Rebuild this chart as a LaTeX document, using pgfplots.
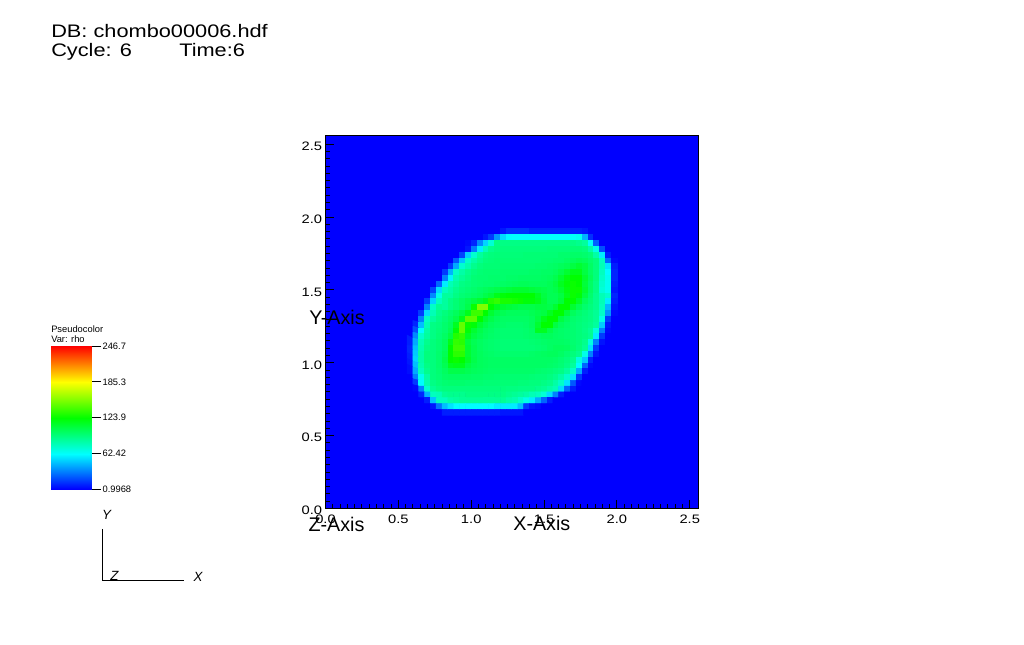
\documentclass[border=0pt]{standalone}
\usepackage{fontspec}
\setmainfont{Liberation Sans}
\newfontfamily\widefont[FakeStretch=1.2]{Liberation Sans}
\usepackage{pgfplots}
\pgfplotsset{compat=1.18}
\pgfplotsset{colormap={visit}{rgb255(0)=(0,0,255) rgb255(1)=(0,255,255) rgb255(2)=(0,255,0) rgb255(3)=(255,255,0) rgb255(4)=(255,0,0)}}
\begin{document}
\begin{tikzpicture}[x=0.75pt,y=0.75pt]
\path[use as bounding box] (0,0) rectangle (1024,645);
\begin{axis}[
  at={(244.125pt,102.375pt)},anchor=south west,
  scale only axis,width=279.75pt,height=279.75pt,
  xmin=0,xmax=2.56,ymin=0,ymax=2.56,
  axis background/.style={fill={rgb,255:red,0;green,0;blue,255}},
  axis on top,
  axis line style={black,line width=1pt},
  tick style={black,line width=0.75pt},
  tick align=inside,
  xtick pos=lower,ytick pos=left,
  major tick length=6pt,minor tick length=3pt,
  xtick={0,0.5,1,1.5,2,2.5},ytick={0,0.5,1,1.5,2,2.5},
  xticklabels={0.0,0.5,1.0,1.5,2.0,2.5},yticklabels={0.0,0.5,1.0,1.5,2.0,2.5},
  minor tick num=9,
  tick label style={font=\widefont\fontsize{9.2pt}{11pt}\selectfont,black},
  xticklabel style={yshift=-1.5pt},
  yticklabel style={xshift=1pt,yshift=-1.5pt},
  xlabel={X-Axis},ylabel={Y-Axis},
  every axis x label/.style={at={(axis description cs:0.58,-0.04)},anchor=center,font=\fontsize{14.8pt}{16pt}\selectfont},
  every axis y label/.style={at={(axis description cs:0.031,0.513)},anchor=center,font=\fontsize{14.8pt}{16pt}\selectfont},
  colormap name=visit,
  point meta min=0.9968,point meta max=246.7,
]
\addplot[matrix plot*,mesh/cols=36,point meta=explicit]
table[row sep=\\,header=false,meta index=0,
  x expr={(14+mod(\coordindex,36)+0.5)*0.04},
  y expr={(47-floor(\coordindex/36)+0.5)*0.04}]{
1\\1\\1\\1\\1\\1\\1\\1\\1\\1\\1\\1\\1\\1\\1\\1\\6\\12\\12\\12\\12\\8\\8\\8\\8\\8\\8\\8\\8\\8\\6\\1\\1\\1\\1\\1\\
1\\1\\1\\1\\1\\1\\1\\1\\1\\1\\1\\1\\1\\6\\15\\37\\54\\62\\63\\63\\63\\63\\63\\63\\63\\63\\63\\63\\64\\66\\44\\12\\1\\1\\1\\1\\
1\\1\\1\\1\\1\\1\\1\\1\\1\\1\\3\\10\\34\\52\\72\\92\\92\\92\\92\\92\\92\\92\\92\\92\\92\\92\\92\\92\\92\\90\\86\\64\\24\\1\\1\\1\\
1\\1\\1\\1\\1\\1\\1\\1\\1\\1\\6\\31\\58\\80\\90\\93\\94\\94\\94\\94\\94\\94\\94\\94\\95\\95\\95\\95\\96\\96\\94\\84\\68\\20\\1\\1\\
1\\1\\1\\1\\1\\1\\1\\1\\1\\17\\51\\74\\86\\92\\94\\95\\95\\95\\95\\95\\96\\96\\96\\96\\96\\96\\98\\98\\99\\99\\98\\95\\84\\58\\8\\1\\
1\\1\\1\\1\\1\\1\\1\\1\\22\\48\\76\\84\\90\\94\\95\\96\\96\\96\\96\\96\\96\\96\\96\\97\\97\\98\\98\\100\\102\\104\\102\\98\\94\\78\\26\\3\\
1\\1\\1\\1\\1\\1\\1\\15\\42\\74\\82\\90\\94\\96\\96\\96\\97\\97\\97\\97\\97\\97\\98\\98\\99\\100\\102\\104\\108\\112\\108\\100\\94\\80\\56\\8\\
1\\1\\1\\1\\1\\1\\15\\44\\76\\84\\90\\94\\96\\97\\97\\97\\98\\98\\98\\98\\98\\99\\99\\100\\100\\102\\106\\112\\118\\118\\108\\100\\94\\78\\62\\10\\
1\\1\\1\\1\\1\\1\\32\\60\\82\\88\\92\\96\\97\\97\\98\\98\\98\\99\\99\\100\\100\\100\\100\\101\\102\\105\\112\\120\\124\\124\\112\\102\\94\\76\\66\\10\\
1\\1\\1\\1\\1\\25\\58\\80\\86\\92\\94\\96\\97\\98\\98\\99\\100\\101\\102\\103\\103\\102\\102\\102\\104\\108\\116\\122\\126\\124\\110\\100\\92\\74\\66\\8\\
1\\1\\1\\1\\17\\54\\78\\84\\90\\94\\96\\98\\100\\102\\104\\106\\108\\110\\112\\112\\112\\110\\108\\106\\104\\106\\112\\120\\126\\126\\112\\100\\92\\72\\66\\6\\
1\\1\\1\\1\\34\\68\\86\\86\\92\\96\\98\\100\\102\\106\\110\\118\\122\\124\\124\\124\\124\\124\\116\\108\\104\\104\\108\\118\\126\\122\\108\\98\\90\\80\\75\\10\\
1\\1\\1\\15\\52\\78\\86\\92\\96\\100\\104\\108\\112\\118\\132\\136\\130\\130\\128\\126\\122\\122\\118\\110\\104\\104\\110\\124\\124\\114\\102\\96\\90\\80\\58\\8\\
1\\1\\1\\32\\76\\88\\86\\92\\96\\100\\106\\126\\155\\155\\124\\116\\112\\110\\108\\106\\106\\106\\108\\108\\106\\112\\124\\124\\112\\104\\98\\94\\90\\78\\45\\5\\
1\\1\\15\\54\\80\\90\\94\\98\\102\\108\\118\\138\\138\\124\\112\\106\\104\\102\\102\\102\\102\\104\\106\\108\\116\\124\\124\\110\\102\\98\\95\\92\\88\\76\\37\\3\\
1\\1\\32\\76\\86\\92\\96\\100\\106\\118\\146\\146\\124\\112\\106\\102\\100\\100\\100\\100\\100\\102\\108\\118\\124\\124\\108\\102\\98\\96\\94\\92\\88\\68\\15\\1\\
1\\10\\47\\80\\92\\94\\98\\102\\116\\148\\126\\122\\112\\106\\102\\100\\99\\98\\98\\98\\99\\102\\112\\124\\124\\108\\102\\99\\97\\95\\93\\91\\86\\50\\6\\1\\
1\\20\\62\\84\\92\\95\\98\\104\\122\\148\\122\\112\\106\\102\\100\\98\\97\\97\\97\\97\\98\\100\\116\\116\\106\\101\\99\\98\\97\\95\\92\\88\\70\\32\\3\\1\\
1\\34\\75\\86\\92\\96\\100\\108\\132\\136\\116\\108\\104\\101\\99\\98\\97\\97\\97\\97\\98\\99\\100\\102\\102\\100\\99\\98\\97\\95\\93\\89\\58\\15\\1\\1\\
8\\42\\80\\90\\94\\97\\102\\118\\136\\134\\110\\104\\101\\99\\98\\97\\96\\96\\96\\96\\96\\97\\98\\99\\100\\100\\100\\99\\97\\95\\90\\70\\32\\5\\1\\1\\
10\\47\\82\\92\\94\\97\\102\\124\\138\\138\\112\\105\\101\\99\\98\\97\\96\\96\\96\\96\\96\\96\\97\\98\\100\\102\\102\\101\\98\\94\\88\\55\\15\\1\\1\\1\\
10\\50\\84\\94\\94\\98\\104\\124\\134\\134\\112\\105\\102\\100\\99\\98\\98\\98\\98\\98\\98\\99\\100\\101\\102\\102\\100\\97\\94\\90\\68\\32\\6\\1\\1\\1\\
8\\52\\84\\94\\94\\98\\106\\124\\126\\124\\114\\106\\102\\101\\100\\100\\100\\100\\100\\100\\100\\100\\100\\100\\100\\99\\97\\94\\90\\70\\50\\10\\1\\1\\1\\1\\
6\\47\\82\\92\\94\\98\\104\\116\\118\\118\\108\\104\\102\\101\\100\\100\\100\\100\\100\\100\\100\\100\\100\\100\\99\\98\\96\\92\\86\\62\\25\\3\\1\\1\\1\\1\\
4\\42\\78\\90\\94\\97\\101\\106\\106\\106\\104\\102\\101\\100\\99\\99\\99\\99\\99\\99\\99\\99\\98\\97\\96\\94\\92\\86\\76\\42\\8\\1\\1\\1\\1\\1\\
1\\32\\66\\84\\94\\96\\99\\100\\100\\100\\100\\99\\99\\98\\98\\97\\97\\97\\97\\97\\97\\96\\95\\95\\93\\90\\84\\75\\56\\15\\1\\1\\1\\1\\1\\1\\
1\\15\\62\\82\\92\\95\\97\\98\\98\\98\\97\\97\\97\\96\\96\\96\\96\\96\\96\\95\\95\\94\\94\\92\\90\\84\\76\\56\\22\\3\\1\\1\\1\\1\\1\\1\\
1\\3\\32\\74\\88\\92\\94\\94\\94\\94\\94\\94\\94\\94\\94\\94\\94\\93\\93\\92\\92\\92\\90\\88\\84\\80\\54\\25\\8\\1\\1\\1\\1\\1\\1\\1\\
1\\1\\10\\44\\78\\80\\88\\90\\90\\90\\92\\92\\92\\92\\92\\92\\92\\90\\88\\86\\84\\80\\78\\72\\54\\32\\8\\1\\1\\1\\1\\1\\1\\1\\1\\1\\
1\\1\\1\\8\\48\\78\\78\\84\\86\\88\\88\\88\\88\\88\\88\\88\\88\\84\\82\\76\\68\\58\\42\\25\\8\\1\\1\\1\\1\\1\\1\\1\\1\\1\\1\\1\\
1\\1\\1\\1\\6\\29\\47\\56\\62\\62\\62\\62\\62\\62\\62\\58\\58\\58\\58\\47\\15\\6\\4\\1\\1\\1\\1\\1\\1\\1\\1\\1\\1\\1\\1\\1\\
1\\1\\1\\1\\1\\1\\8\\8\\8\\8\\8\\8\\8\\8\\8\\8\\6\\6\\6\\6\\1\\1\\1\\1\\1\\1\\1\\1\\1\\1\\1\\1\\1\\1\\1\\1\\
};
\end{axis}
% colour bar as its own axis
\begin{axis}[
  at={(38.25pt,116.625pt)},anchor=south west,
  scale only axis,width=30pt,height=107.6pt,
  xmin=0,xmax=1,ymin=0.9968,ymax=246.7,
  axis x line=none,
  axis y line=right,
  axis line style={draw=none},
  xtick=\empty,
  ytick={0.9968,62.42,123.9,185.3,246.7},
  yticklabels={0.9968,62.42,123.9,185.3,246.7},
  tick align=outside,major tick length=7.5pt,
  tick style={black,line width=0.6pt},
  yticklabel style={font=\fontsize{7pt}{8pt}\selectfont,inner sep=1pt,xshift=0pt},
  colormap name=visit,
  point meta min=0.9968,point meta max=246.7,
]
\addplot[surf,shader=interp,mesh/cols=2,point meta=y] coordinates {
(0,0.9968)(1,0.9968)
(0,62.42)(1,62.42)
(0,123.9)(1,123.9)
(0,185.3)(1,185.3)
(0,246.7)(1,246.7)
};
\end{axis}
% overlapping axis title as in the reference
\node[anchor=center,font=\fontsize{14.8pt}{16pt}\selectfont] at (336.5,121) {Z-Axis};
% header
\node[anchor=base west,inner sep=0pt,font=\widefont\fontsize{13.6pt}{16pt}\selectfont] at (51,607.3) {DB: chombo00006.hdf};
\node[anchor=base west,inner sep=0pt,font=\widefont\fontsize{13.6pt}{16pt}\selectfont] at (51,588.3) {Cycle: 6};
\node[anchor=base west,inner sep=0pt,font=\widefont\fontsize{13.6pt}{16pt}\selectfont] at (179,588.3) {Time:6};
% legend title
\node[anchor=west,inner sep=0pt,font=\fontsize{7pt}{8pt}\selectfont] at (51,316) {Pseudocolor};
\node[anchor=west,inner sep=0pt,font=\fontsize{7pt}{8pt}\selectfont] at (51,306) {Var: rho};
% triad
\draw[black,line width=0.75pt] (102,116) -- (102,64.5) -- (184,64.5);
\node[font=\fontsize{10pt}{11pt}\selectfont\itshape] at (106.5,130) {Y};
\node[font=\fontsize{10pt}{11pt}\selectfont\itshape] at (198,68.5) {X};
\node[font=\fontsize{10pt}{11pt}\selectfont\itshape] at (114.5,69) {Z};
\end{tikzpicture}
\end{document}
